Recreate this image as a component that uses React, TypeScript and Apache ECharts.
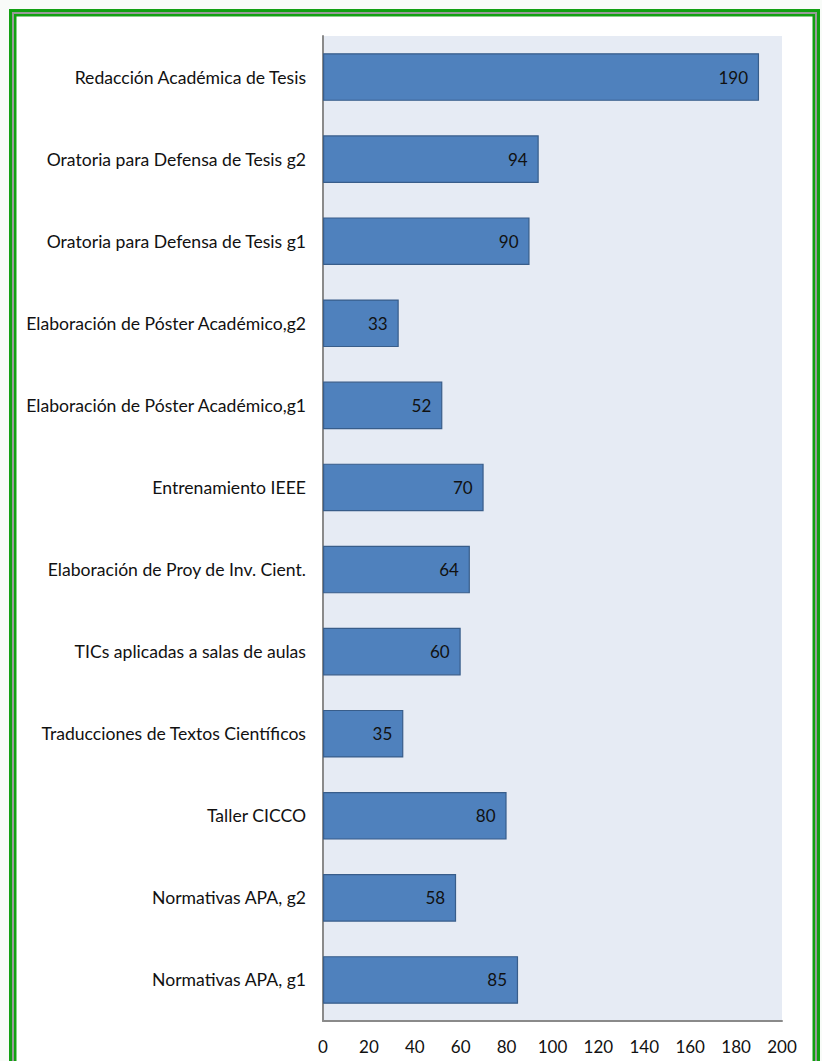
import React, { useEffect, useRef } from "react";
import * as echarts from "echarts";

const categories: string[] = [
  "Redacción Académica de Tesis",
  "Oratoria para Defensa de Tesis g2",
  "Oratoria para Defensa de Tesis g1",
  "Elaboración de Póster Académico,g2",
  "Elaboración de Póster Académico,g1",
  "Entrenamiento IEEE",
  "Elaboración de Proy de Inv. Cient.",
  "TICs aplicadas a salas de aulas",
  "Traducciones de Textos Científicos",
  "Taller CICCO",
  "Normativas APA, g2",
  "Normativas APA, g1",
];

const values: number[] = [190, 94, 90, 33, 52, 70, 64, 60, 35, 80, 58, 85];

const axisMin = 0;
const axisMax = 200;
const axisStep = 20;

const FONT = "Lato, 'Noto Sans', sans-serif";

export default function App() {
  const ref = useRef<HTMLDivElement>(null);

  useEffect(() => {
    if (!ref.current) return;
    const chart = echarts.init(ref.current, undefined, { renderer: "svg" });
    chart.setOption({
      animation: false,
      backgroundColor: "#f8fbf8",
      graphic: [
        { type: "rect", z: -10, shape: { x: 9, y: 9, width: 811, height: 1100 }, style: { fill: "#12a012" } },
        { type: "rect", z: -9, shape: { x: 12, y: 12, width: 805, height: 1100 }, style: { fill: "#9a9a9a" } },
        { type: "rect", z: -8, shape: { x: 14, y: 14, width: 801, height: 1100 }, style: { fill: "#12a012" } },
        { type: "rect", z: -7, shape: { x: 16.5, y: 16.5, width: 796, height: 1100 }, style: { fill: "#ffffff" } },
      ],
      grid: {
        left: 323,
        right: 40,
        top: 36,
        bottom: 40,
        show: true,
        backgroundColor: "#e6ebf4",
        borderWidth: 0,
        containLabel: false,
      },
      xAxis: {
        type: "value",
        min: axisMin,
        max: axisMax,
        interval: axisStep,
        splitLine: { show: false },
        axisTick: { show: false },
        axisLine: { show: true, lineStyle: { color: "#8a8a8a", width: 2 } },
        axisLabel: {
          color: "#111",
          fontSize: 17,
          fontFamily: FONT,
          margin: 17,
        },
      },
      yAxis: {
        type: "category",
        inverse: true,
        data: categories,
        axisTick: { show: false },
        axisLine: { show: true, lineStyle: { color: "#8a8a8a", width: 2 } },
        axisLabel: {
          color: "#111",
          fontSize: 17.6,
          fontFamily: FONT,
          margin: 17,
        },
      },
      series: [
        {
          type: "bar",
          data: values,
          barCategoryGap: "42%",
          itemStyle: {
            color: "#4f81bd",
            borderColor: "#385d8a",
            borderWidth: 1.2,
          },
          label: {
            show: true,
            position: "insideRight",
            distance: 11,
            color: "#111",
            fontSize: 17,
            fontFamily: FONT,
          },
        },
      ],
    });
    return () => chart.dispose();
  }, []);

  return (
    <div
      ref={ref}
      style={{ position: "absolute", left: 0, top: 0, width: 822, height: 1061 }}
    />
  );
}
